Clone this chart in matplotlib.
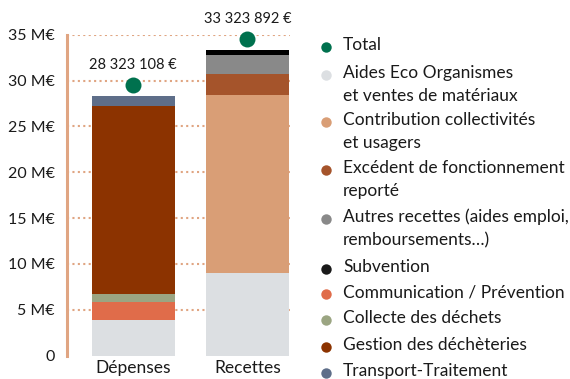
import matplotlib
matplotlib.use("Agg")
import matplotlib.pyplot as plt
import matplotlib.transforms as mtransforms

plt.rcParams['font.family'] = ['Lato', 'DejaVu Sans']

# Data (millions of euros)
categories = ["Dépenses", "Recettes"]
totals = [28.323108, 33.323892]
total_labels = ["28 323 108 €", "33 323 892 €"]

# Stacked series, bottom to top
series_names = [
    "Aides Eco Organismes\net ventes de matériaux",
    "Communication / Prévention",
    "Collecte des déchets",
    "Gestion des déchèteries",
    "Transport-Traitement",
    "Contribution collectivités\net usagers",
    "Excédent de fonctionnement\nreporté",
    "Autres recettes (aides emploi,\nremboursements…)",
    "Subvention",
]
series_values = [
    [3.85, 9.00],
    [1.94, 0.0],
    [0.87, 0.0],
    [20.593108, 0.0],
    [1.07, 0.0],
    [0.0, 19.373892],
    [0.0, 2.37],
    [0.0, 2.04],
    [0.0, 0.54],
]
series_colors = {
    "Aides Eco Organismes\net ventes de matériaux": "#dcdfe2",
    "Communication / Prévention": "#e06c4a",
    "Collecte des déchets": "#9ba582",
    "Gestion des déchèteries": "#8c3300",
    "Transport-Traitement": "#5e6e89",
    "Contribution collectivités\net usagers": "#d99e76",
    "Excédent de fonctionnement\nreporté": "#a5542b",
    "Autres recettes (aides emploi,\nremboursements…)": "#898989",
    "Subvention": "#000000",
}

# Legend order
legend_order = [
    "Total",
    "Aides Eco Organismes\net ventes de matériaux",
    "Contribution collectivités\net usagers",
    "Excédent de fonctionnement\nreporté",
    "Autres recettes (aides emploi,\nremboursements…)",
    "Subvention",
    "Communication / Prévention",
    "Collecte des déchets",
    "Gestion des déchèteries",
    "Transport-Traitement",
]
total_color = "#00714e"
axis_color = "#e0a582"
text_color = "#1a1a1a"

yticks = [0, 5, 10, 15, 20, 25, 30, 35]
ytick_labels = ["0", "5 M€", "10 M€", "15 M€", "20 M€", "25 M€", "30 M€", "35 M€"]

W, H = 570, 379
fig = plt.figure(figsize=(W / 100, H / 100), dpi=100)
ax = fig.add_axes([67 / W, 1 - 355.5 / H, (290 - 67) / W, (355.5 - 34.7) / H])

x = list(range(len(categories)))
bottoms = [0.0] * len(categories)
for name, vals in zip(series_names, series_values):
    ax.bar(x, vals, width=0.73, bottom=bottoms, color=series_colors[name],
           linewidth=0, zorder=2)
    bottoms = [b + v for b, v in zip(bottoms, vals)]

# Total markers and labels, placed just above the stack
dot_offset = mtransforms.offset_copy(ax.transData, fig=fig, x=0, y=11, units='dots')
ax.plot(x, totals, 'o', color=total_color, markersize=11.5, transform=dot_offset,
        clip_on=False, zorder=4, markeredgewidth=0)
for xi, t, lab in zip(x, totals, total_labels):
    ax.annotate(lab, (xi, t), xytext=(0, 31), textcoords='offset pixels',
                ha='center', va='center', fontsize=10.5, color=text_color,
                annotation_clip=False)

ax.set_xlim(-0.582, 1.374)
ax.set_ylim(0, 35)
ax.set_yticks(yticks)
ax.set_yticklabels(ytick_labels)
ax.set_xticks(x)
ax.set_xticklabels(categories)
ax.tick_params(axis='y', length=0, pad=9, labelsize=11.5, labelcolor=text_color)
ax.tick_params(axis='x', length=0, pad=3, labelsize=12.5, labelcolor=text_color)

for gy in yticks[1:]:
    ax.axhline(gy, color=axis_color, linestyle=(0, (1, 1.6)), linewidth=1.5,
               zorder=1, dash_capstyle='butt')

for side in ['top', 'right', 'bottom']:
    ax.spines[side].set_visible(False)
ax.spines['left'].set_color(axis_color)
ax.spines['left'].set_linewidth(2.2)

# Legend, drawn in pixel coordinates of the figure
lax = fig.add_axes([0, 0, 1, 1])
lax.set_xlim(0, W)
lax.set_ylim(H, 0)
lax.axis('off')
legend_y = [45, 73, 120, 168, 217, 267, 292, 318, 345, 371]
line_gap = 23
for name, ly in zip(legend_order, legend_y):
    color = total_color if name == "Total" else series_colors[name]
    if name == "Subvention":
        color = "#1a1a1a"
    lax.plot([326], [ly + 1.5], 'o', color=color, markersize=7.5, markeredgewidth=0)
    for i, line in enumerate(name.split("\n")):
        lax.text(343, ly + i * line_gap, line, ha='left', va='center',
                 fontsize=12.5, color=text_color)

fig.savefig("out.png", dpi=100)
